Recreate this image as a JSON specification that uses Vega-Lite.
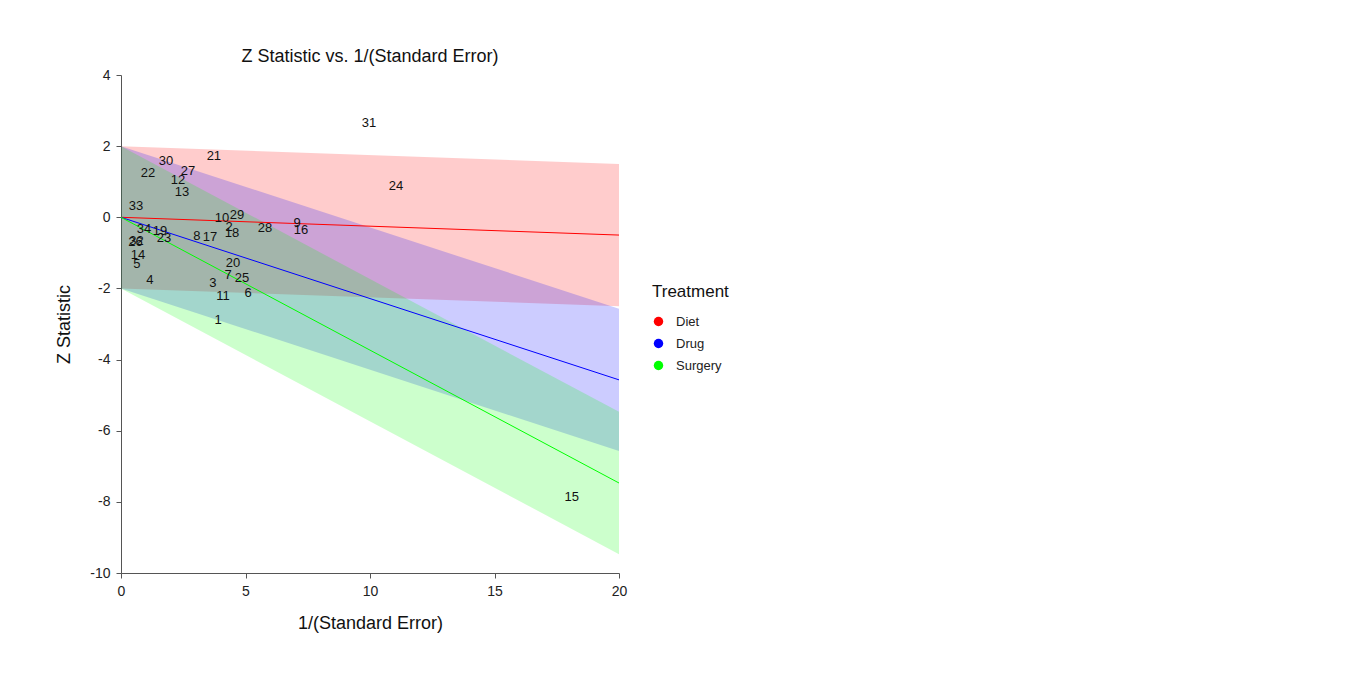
{
  "$schema": "https://vega.github.io/schema/vega-lite/v6.json",
  "autosize": "none",
  "width": 498,
  "height": 498,
  "padding": {"left": 121, "top": 75, "right": 735, "bottom": 101},
  "background": "white",
  "config": {
    "font": "Liberation Sans",
    "view": {"stroke": null},
    "axis": {
      "grid": false,
      "domainColor": "#555",
      "tickColor": "#555",
      "tickSize": 5,
      "labelFontSize": 14,
      "labelColor": "#222",
      "labelFlush": false,
      "labelExpr": "datum.value + ''",
      "titleFontSize": 18,
      "titleFontWeight": "normal",
      "titleColor": "#111",
      "labelPadding": 6
    },
    "title": {"fontSize": 18, "fontWeight": "normal", "color": "#111"}
  },
  "title": {"text": "Z Statistic vs. 1/(Standard Error)", "anchor": "middle", "offset": 2},
  "datasets": {
    "bands": [
      {"Treatment": "Diet", "x": 0, "fit": 0, "lo": -2, "hi": 2},
      {"Treatment": "Diet", "x": 20, "fit": -0.5, "lo": -2.5, "hi": 1.5},
      {"Treatment": "Drug", "x": 0, "fit": 0, "lo": -2, "hi": 2},
      {"Treatment": "Drug", "x": 20, "fit": -4.57, "lo": -6.57, "hi": -2.57},
      {"Treatment": "Surgery", "x": 0, "fit": 0, "lo": -2, "hi": 2},
      {"Treatment": "Surgery", "x": 20, "fit": -7.47, "lo": -9.47, "hi": -5.47}
    ],
    "studies": [
      {"id": "1", "x": 3.9, "z": -2.89},
      {"id": "2", "x": 4.34, "z": -0.27},
      {"id": "3", "x": 3.69, "z": -1.85},
      {"id": "4", "x": 1.16, "z": -1.76},
      {"id": "5", "x": 0.64, "z": -1.31},
      {"id": "6", "x": 5.1, "z": -2.13},
      {"id": "7", "x": 4.3, "z": -1.62},
      {"id": "8", "x": 3.05, "z": -0.53},
      {"id": "9", "x": 7.07, "z": -0.16},
      {"id": "10", "x": 4.06, "z": -0.02},
      {"id": "11", "x": 4.1, "z": -2.21},
      {"id": "12", "x": 2.29, "z": 1.05},
      {"id": "13", "x": 2.45, "z": 0.71},
      {"id": "14", "x": 0.68, "z": -1.06},
      {"id": "15", "x": 18.1, "z": -7.86},
      {"id": "16", "x": 7.23, "z": -0.35},
      {"id": "17", "x": 3.57, "z": -0.55},
      {"id": "18", "x": 4.46, "z": -0.44},
      {"id": "19", "x": 1.57, "z": -0.39},
      {"id": "20", "x": 4.5, "z": -1.29},
      {"id": "21", "x": 3.73, "z": 1.72},
      {"id": "22", "x": 1.08, "z": 1.24},
      {"id": "23", "x": 1.73, "z": -0.57},
      {"id": "24", "x": 11.04, "z": 0.88},
      {"id": "25", "x": 4.86, "z": -1.71},
      {"id": "26", "x": 0.58, "z": -0.7},
      {"id": "27", "x": 2.69, "z": 1.3},
      {"id": "28", "x": 5.78, "z": -0.3},
      {"id": "29", "x": 4.66, "z": 0.06},
      {"id": "30", "x": 1.81, "z": 1.58},
      {"id": "31", "x": 9.96, "z": 2.65},
      {"id": "32", "x": 0.62, "z": -0.68},
      {"id": "33", "x": 0.6, "z": 0.32},
      {"id": "34", "x": 0.92, "z": -0.33}
    ]
  },
  "layer": [
    {
      "data": {"name": "bands"},
      "mark": {"type": "area", "opacity": 0.2},
      "encoding": {
        "x": {"field": "x", "type": "quantitative", "scale": {"domain": [0, 20], "nice": false}, "axis": {"values": [0, 5, 10, 15, 20], "title": "1/(Standard Error)", "titlePadding": 16}},
        "y": {"field": "lo", "type": "quantitative", "scale": {"domain": [-10, 4], "nice": false}, "axis": {"values": [-10, -8, -6, -4, -2, 0, 2, 4], "title": "Z Statistic", "titlePadding": 16}},
        "y2": {"field": "hi"},
        "color": {
          "field": "Treatment", "type": "nominal",
          "scale": {"domain": ["Diet", "Drug", "Surgery"], "range": ["#ff0000", "#0000ff", "#00ff00"]},
          "legend": {
            "orient": "none", "legendX": 531, "legendY": 209,
            "title": "Treatment", "titleFontSize": 17, "titleFontWeight": "normal", "titleColor": "#111",
            "titlePadding": 14,
            "labelFontSize": 13, "labelColor": "#222", "labelOffset": 11,
            "symbolType": "circle", "symbolSize": 90, "symbolOpacity": 1, "symbolStrokeWidth": 0,
            "rowPadding": 8
          }
        }
      }
    },
    {
      "data": {"name": "bands"},
      "mark": {"type": "line", "strokeWidth": 1},
      "encoding": {
        "x": {"field": "x", "type": "quantitative"},
        "y": {"field": "fit", "type": "quantitative"},
        "color": {"field": "Treatment", "type": "nominal", "legend": null}
      }
    },
    {
      "data": {"name": "studies"},
      "mark": {"type": "text", "fontSize": 13, "color": "#111", "align": "center", "baseline": "middle"},
      "encoding": {
        "x": {"field": "x", "type": "quantitative"},
        "y": {"field": "z", "type": "quantitative"},
        "text": {"field": "id"}
      }
    }
  ]
}
